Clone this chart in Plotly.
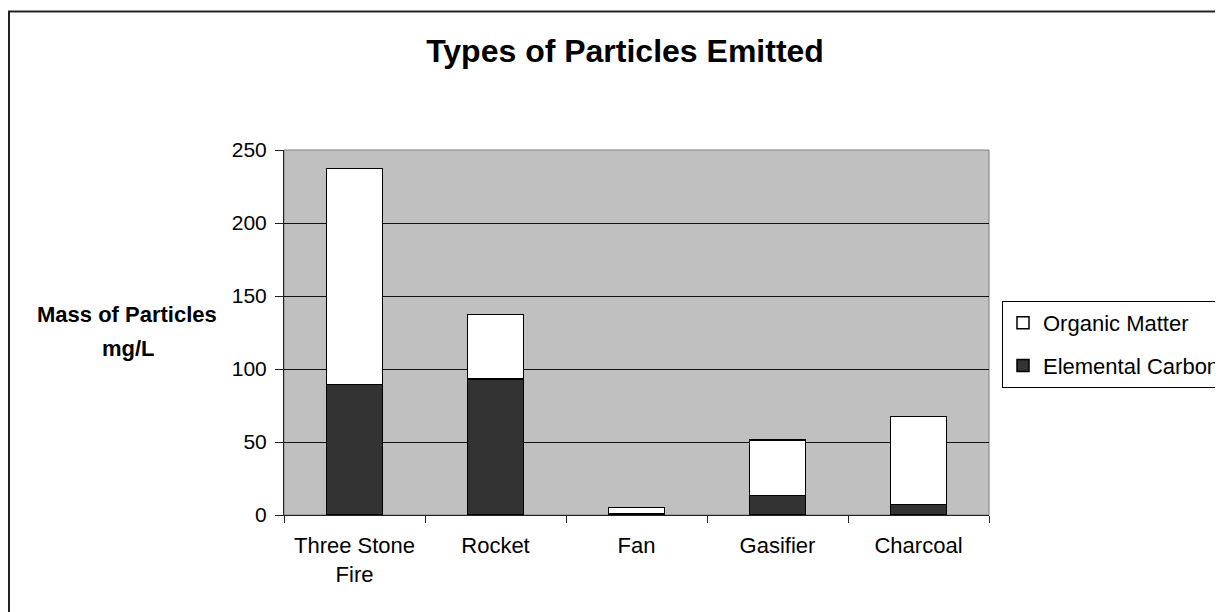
import plotly.graph_objects as go

categories = ["Three Stone<br>Fire", "Rocket", "Fan", "Gasifier", "Charcoal"]
elemental_carbon = [89.3, 93.2, 1.2, 13.2, 7.3]
organic_matter = [148.1, 44.0, 3.8, 38.3, 60.1]
y_ticks = [0, 50, 100, 150, 200, 250]

FONT = "Liberation Sans, Arial, sans-serif"

# the page body has an 8px margin; positions below are page pixels
PAGE_OFF = 8
PLOT_L, PLOT_R, PLOT_T, PLOT_B = 284, 989, 150, 515


def px(x):
    return (x - PLOT_L) / (PLOT_R - PLOT_L)


def py(y):
    return (PLOT_B - y) / (PLOT_B - PLOT_T)


fig = go.Figure()
fig.add_trace(go.Bar(
    x=categories, y=elemental_carbon, name="Elemental Carbon",
    legendgroup="ec", legendrank=2,
    marker=dict(color="#333333", line=dict(color="black", width=1.5)),
))
fig.add_trace(go.Bar(
    x=categories, y=organic_matter, name="Organic Matter",
    legendgroup="om", legendrank=1,
    marker=dict(color="white", line=dict(color="black", width=1.5)),
))

fig.update_layout(
    width=1223, height=612,
    barmode="stack", bargap=0.6,
    margin=dict(l=PLOT_L - PAGE_OFF, r=1223 - (PLOT_R - PAGE_OFF),
                t=PLOT_T - PAGE_OFF, b=612 - (PLOT_B - PAGE_OFF), autoexpand=False),
    paper_bgcolor="white", plot_bgcolor="#c0c0c0",
    font=dict(family=FONT, size=21, color="black"),
    title=dict(text="<b>Types of Particles Emitted</b>", x=(625 - PAGE_OFF) / 1223,
               xanchor="center", y=1 - (51 - PAGE_OFF) / 612, yanchor="middle",
               font=dict(size=32, color="black")),
    legend=dict(traceorder="grouped", tracegroupgap=11,
                x=px(1002), xanchor="left", y=py(301), yanchor="top",
                bgcolor="white", bordercolor="black", borderwidth=1,
                font=dict(size=22)),
    showlegend=True,
)
fig.update_xaxes(showline=True, linecolor="#222222", linewidth=1, ticks="outside",
                 tickson="boundaries", ticklen=7, tickcolor="#222222", showgrid=False,
                 tickfont=dict(size=22), ticklabelstandoff=11)
fig.update_yaxes(range=[0, 250], tickvals=y_ticks, showline=True, linecolor="#222222",
                 linewidth=1, ticks="outside", ticklen=8, tickcolor="#222222",
                 showgrid=True, gridcolor="#111111", gridwidth=1, zeroline=False,
                 ticklabelstandoff=4)

# plot-area border and outer chart frame
fig.add_shape(type="rect", xref="paper", yref="paper", x0=0, x1=1, y0=0, y1=1,
              line=dict(color="#808080", width=1), layer="below")
fig.add_shape(type="rect", xref="paper", yref="paper",
              x0=px(9), x1=1.6, y0=-0.6, y1=py(11.5),
              line=dict(color="#222222", width=2))

fig.add_annotation(text="<b>Mass of Particles</b>", xref="paper", yref="paper",
                   x=px(127), y=py(314), xanchor="center", yanchor="middle",
                   showarrow=False, font=dict(size=22))
fig.add_annotation(text="<b>mg/L</b>", xref="paper", yref="paper",
                   x=px(128), y=py(348), xanchor="center", yanchor="middle",
                   showarrow=False, font=dict(size=22))

fig.write_html("out.html")
